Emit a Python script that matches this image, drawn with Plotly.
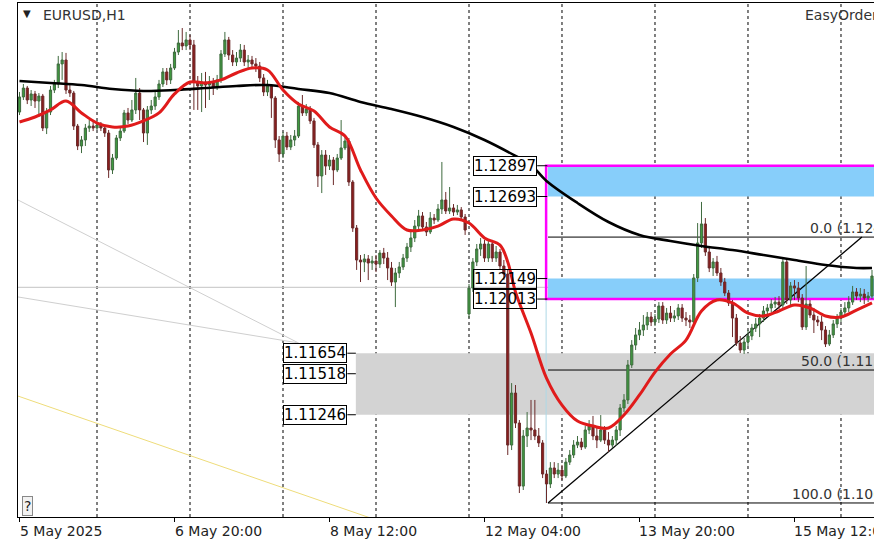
import plotly.graph_objects as go

# EURUSD H1, 5 May 04:00 .. 16 May, one entry per hourly bar
bars = list(range(221))

opens = [
    1.13253, 1.13353, 1.13412, 1.13333, 1.13373, 1.13326, 1.13359, 1.13147, 1.13253, 1.13399,
    1.13439, 1.13572, 1.13598, 1.13399, 1.13379, 1.13160, 1.13028, 1.13068, 1.13147, 1.13160,
    1.13147, 1.13167, 1.13147, 1.13114, 1.12869, 1.12948, 1.13081, 1.13127, 1.13247, 1.13200,
    1.13267, 1.13379, 1.13267, 1.13114, 1.13267, 1.13293, 1.13353, 1.13439, 1.13519, 1.13466,
    1.13545, 1.13651, 1.13711, 1.13691, 1.13731, 1.13698, 1.13452, 1.13426, 1.13452, 1.13432,
    1.13446, 1.13419, 1.13466, 1.13638, 1.13731, 1.13631, 1.13585, 1.13611, 1.13664, 1.13585,
    1.13598, 1.13572, 1.13558, 1.13479, 1.13386, 1.13426, 1.13346, 1.13068, 1.12975, 1.13094,
    1.13021, 1.13068, 1.13094, 1.13293, 1.13247, 1.13273, 1.13194, 1.13035, 1.12829, 1.12968,
    1.12895, 1.12935, 1.12869, 1.12948, 1.13015, 1.13061, 1.12789, 1.12484, 1.12272, 1.12259,
    1.12279, 1.12252, 1.12265, 1.12245, 1.12318, 1.12285, 1.12219, 1.12126, 1.12186, 1.12226,
    1.12285, 1.12358, 1.12418, 1.12497, 1.12564, 1.12491, 1.12458, 1.12550, 1.12537, 1.12610,
    1.12670, 1.12597, 1.12617, 1.12590, 1.12604, 1.12557, 1.11914, 1.12086, 1.12259, 1.12345,
    1.12378, 1.12285, 1.12378, 1.12285, 1.12325, 1.12232, 1.12179, 1.11045, 1.11390, 1.11191,
    1.10773, 1.11105, 1.11158, 1.11145, 1.11105, 1.11059, 1.10853, 1.10787, 1.10893, 1.10853,
    1.10879, 1.10840, 1.10932, 1.10979, 1.11045, 1.11065, 1.11032, 1.11145, 1.11171, 1.11105,
    1.11078, 1.11145, 1.11078, 1.11045, 1.11078, 1.11145, 1.11291, 1.11344, 1.11576, 1.11708,
    1.11775, 1.11808, 1.11841, 1.11894, 1.11861, 1.11881, 1.11967, 1.11874, 1.11920, 1.11887,
    1.11901, 1.11954, 1.11887, 1.11874, 1.11861, 1.12153, 1.12385, 1.12511, 1.12325, 1.12219,
    1.12259, 1.12186, 1.12126, 1.12053, 1.11987, 1.11887, 1.11722, 1.11675, 1.11728, 1.11768,
    1.11821, 1.11848, 1.11887, 1.11934, 1.11954, 1.11980, 1.11993, 1.11974, 1.12259, 1.12007,
    1.12100, 1.12086, 1.12020, 1.11828, 1.11980, 1.11907, 1.11874, 1.11861, 1.11808, 1.11715,
    1.11775, 1.11848, 1.11887, 1.11927, 1.11954, 1.11993, 1.12060, 1.12033, 1.12046, 1.12020,
    1.12033,
]
highs = [
    1.13386, 1.13439, 1.13426, 1.13399, 1.13393, 1.13379, 1.13373, 1.13280, 1.13426, 1.13466,
    1.13625, 1.13651, 1.13645, 1.13432, 1.13393, 1.13174, 1.13094, 1.13174, 1.13200, 1.13187,
    1.13194, 1.13187, 1.13167, 1.13134, 1.12975, 1.13101, 1.13154, 1.13267, 1.13280, 1.13333,
    1.13479, 1.13412, 1.13280, 1.13293, 1.13333, 1.13386, 1.13466, 1.13545, 1.13545, 1.13572,
    1.13678, 1.13797, 1.13810, 1.13784, 1.13764, 1.13731, 1.13492, 1.13512, 1.13519, 1.13492,
    1.13479, 1.13499, 1.13664, 1.13784, 1.13751, 1.13664, 1.13651, 1.13704, 1.13698, 1.13631,
    1.13625, 1.13611, 1.13585, 1.13505, 1.13466, 1.13439, 1.13359, 1.13094, 1.13121, 1.13121,
    1.13101, 1.13134, 1.13320, 1.13366, 1.13306, 1.13293, 1.13214, 1.13054, 1.13001, 1.13001,
    1.12968, 1.12955, 1.12975, 1.13200, 1.13094, 1.13081, 1.12802, 1.12504, 1.12305, 1.12312,
    1.12305, 1.12299, 1.12305, 1.12338, 1.12352, 1.12325, 1.12259, 1.12219, 1.12259, 1.12312,
    1.12385, 1.12458, 1.12537, 1.12604, 1.12590, 1.12524, 1.12590, 1.12577, 1.12643, 1.12922,
    1.12723, 1.12756, 1.12643, 1.12637, 1.12623, 1.12577, 1.12113, 1.12285, 1.12378, 1.12418,
    1.12405, 1.12405, 1.12405, 1.12365, 1.12345, 1.12272, 1.12206, 1.11456, 1.11443, 1.11211,
    1.11145, 1.11264, 1.11344, 1.11344, 1.11158, 1.11078, 1.10879, 1.10932, 1.10932, 1.10926,
    1.10913, 1.10959, 1.11012, 1.11078, 1.11105, 1.11092, 1.11171, 1.11211, 1.11238, 1.11158,
    1.11244, 1.11171, 1.11131, 1.11105, 1.11171, 1.11317, 1.11383, 1.11609, 1.11741, 1.11821,
    1.11861, 1.11907, 1.11927, 1.11927, 1.11914, 1.11993, 1.11993, 1.11954, 1.11967, 1.11940,
    1.11980, 1.11980, 1.11927, 1.11907, 1.12179, 1.12517, 1.12657, 1.12550, 1.12365, 1.12285,
    1.12299, 1.12219, 1.12153, 1.12073, 1.12007, 1.11914, 1.11768, 1.11755, 1.11808, 1.11848,
    1.11887, 1.11914, 1.11967, 1.11980, 1.12013, 1.12027, 1.12033, 1.12285, 1.12285, 1.12126,
    1.12139, 1.12126, 1.12046, 1.12232, 1.12007, 1.11954, 1.11901, 1.11901, 1.11834, 1.11808,
    1.11874, 1.11914, 1.11954, 1.11993, 1.12033, 1.12100, 1.12086, 1.12086, 1.12080, 1.12060,
    1.12206,
]
lows = [
    1.13233, 1.13333, 1.13306, 1.13293, 1.13280, 1.13220, 1.13127, 1.13107, 1.13233, 1.13379,
    1.13412, 1.13466, 1.13373, 1.13353, 1.13134, 1.13001, 1.12981, 1.13028, 1.13121, 1.13127,
    1.13134, 1.13127, 1.13088, 1.12816, 1.12842, 1.12935, 1.13061, 1.13114, 1.13174, 1.13187,
    1.13240, 1.13200, 1.13054, 1.13035, 1.13240, 1.13267, 1.13333, 1.13419, 1.13432, 1.13439,
    1.13532, 1.13631, 1.13664, 1.13664, 1.13664, 1.13267, 1.13267, 1.13253, 1.13280, 1.13333,
    1.13366, 1.13399, 1.13446, 1.13618, 1.13598, 1.13558, 1.13558, 1.13585, 1.13558, 1.13545,
    1.13545, 1.13519, 1.13452, 1.13359, 1.13359, 1.13214, 1.13015, 1.12922, 1.12948, 1.13001,
    1.13001, 1.13028, 1.13081, 1.13227, 1.13227, 1.13174, 1.13015, 1.12756, 1.12716, 1.12836,
    1.12869, 1.12769, 1.12855, 1.12935, 1.13001, 1.12763, 1.12458, 1.12206, 1.12126, 1.12192,
    1.12139, 1.12206, 1.12192, 1.12219, 1.12245, 1.12139, 1.12100, 1.11960, 1.12153, 1.12206,
    1.12259, 1.12325, 1.12391, 1.12458, 1.12471, 1.12431, 1.12444, 1.12511, 1.12524, 1.12577,
    1.12577, 1.12577, 1.12564, 1.12570, 1.12537, 1.12438, 1.11887, 1.12060, 1.12232, 1.12299,
    1.12259, 1.12259, 1.12259, 1.12259, 1.12206, 1.12139, 1.10979, 1.11012, 1.11158, 1.10727,
    1.10747, 1.11032, 1.11078, 1.11078, 1.11032, 1.10826, 1.10661, 1.10760, 1.10826, 1.10826,
    1.10813, 1.10826, 1.10913, 1.10959, 1.11025, 1.11012, 1.11019, 1.11118, 1.11078, 1.11025,
    1.11065, 1.11052, 1.10999, 1.11025, 1.11039, 1.11105, 1.11264, 1.11317, 1.11556, 1.11675,
    1.11741, 1.11768, 1.11808, 1.11834, 1.11834, 1.11854, 1.11848, 1.11848, 1.11861, 1.11861,
    1.11874, 1.11861, 1.11834, 1.11821, 1.11834, 1.12126, 1.12352, 1.12299, 1.12192, 1.12166,
    1.12166, 1.12100, 1.12033, 1.11967, 1.11761, 1.11702, 1.11655, 1.11649, 1.11702, 1.11741,
    1.11795, 1.11761, 1.11861, 1.11901, 1.11927, 1.11954, 1.11947, 1.11954, 1.11980, 1.11967,
    1.12007, 1.11993, 1.11808, 1.11808, 1.11887, 1.11788, 1.11834, 1.11741, 1.11695, 1.11702,
    1.11755, 1.11821, 1.11861, 1.11901, 1.11927, 1.11974, 1.12007, 1.11993, 1.11980, 1.11993,
    1.12013,
]
closes = [
    1.13353, 1.13412, 1.13333, 1.13373, 1.13326, 1.13359, 1.13147, 1.13253, 1.13399, 1.13439,
    1.13572, 1.13598, 1.13399, 1.13379, 1.13160, 1.13028, 1.13068, 1.13147, 1.13160, 1.13147,
    1.13167, 1.13147, 1.13114, 1.12869, 1.12948, 1.13081, 1.13127, 1.13247, 1.13200, 1.13267,
    1.13379, 1.13267, 1.13114, 1.13267, 1.13293, 1.13353, 1.13439, 1.13519, 1.13466, 1.13545,
    1.13651, 1.13711, 1.13691, 1.13731, 1.13698, 1.13452, 1.13426, 1.13452, 1.13432, 1.13446,
    1.13419, 1.13466, 1.13638, 1.13731, 1.13631, 1.13585, 1.13611, 1.13664, 1.13585, 1.13598,
    1.13572, 1.13558, 1.13479, 1.13386, 1.13426, 1.13346, 1.13068, 1.12975, 1.13094, 1.13021,
    1.13068, 1.13094, 1.13293, 1.13247, 1.13273, 1.13194, 1.13035, 1.12829, 1.12968, 1.12895,
    1.12935, 1.12869, 1.12948, 1.13015, 1.13061, 1.12789, 1.12484, 1.12272, 1.12259, 1.12279,
    1.12252, 1.12265, 1.12245, 1.12318, 1.12285, 1.12219, 1.12126, 1.12186, 1.12226, 1.12285,
    1.12358, 1.12418, 1.12497, 1.12564, 1.12491, 1.12458, 1.12550, 1.12537, 1.12610, 1.12670,
    1.12597, 1.12617, 1.12590, 1.12604, 1.12557, 1.12471, 1.12086, 1.12259, 1.12345, 1.12378,
    1.12285, 1.12378, 1.12285, 1.12325, 1.12232, 1.12179, 1.11045, 1.11390, 1.11191, 1.10773,
    1.11105, 1.11158, 1.11145, 1.11105, 1.11059, 1.10853, 1.10787, 1.10893, 1.10853, 1.10879,
    1.10840, 1.10932, 1.10979, 1.11045, 1.11065, 1.11032, 1.11145, 1.11171, 1.11105, 1.11078,
    1.11145, 1.11078, 1.11045, 1.11078, 1.11145, 1.11291, 1.11344, 1.11576, 1.11708, 1.11775,
    1.11808, 1.11841, 1.11894, 1.11861, 1.11881, 1.11967, 1.11874, 1.11920, 1.11887, 1.11901,
    1.11954, 1.11887, 1.11874, 1.11861, 1.12153, 1.12385, 1.12511, 1.12325, 1.12219, 1.12259,
    1.12186, 1.12126, 1.12053, 1.11987, 1.11887, 1.11722, 1.11675, 1.11728, 1.11768, 1.11821,
    1.11848, 1.11887, 1.11934, 1.11954, 1.11980, 1.11993, 1.11974, 1.12259, 1.12007, 1.12100,
    1.12086, 1.12020, 1.11828, 1.11980, 1.11907, 1.11874, 1.11861, 1.11808, 1.11715, 1.11775,
    1.11848, 1.11887, 1.11927, 1.11954, 1.11993, 1.12060, 1.12033, 1.12046, 1.12020, 1.12033,
    1.12166,
]

# moving averages
red_ma_bars = [0, 4, 8, 12, 16, 20, 24, 28, 32, 36, 40, 44, 48, 52, 56, 60, 64, 68, 72, 76,
               80, 84, 88, 92, 96, 100, 104, 108, 112, 116, 120, 124, 126, 128, 132, 136, 140,
               144, 148, 152, 156, 160, 164, 168, 172, 176, 180, 184, 188, 192, 196, 200, 204,
               208, 212, 216, 220]
red_ma = [1.13187, 1.13220, 1.13267, 1.13326, 1.13247, 1.13180, 1.13154, 1.13160, 1.13194,
          1.13247, 1.13373, 1.13452, 1.13446, 1.13466, 1.13512, 1.13545, 1.13532, 1.13399,
          1.13306, 1.13260, 1.13154, 1.13094, 1.12869, 1.12683, 1.12564, 1.12471, 1.12471,
          1.12497, 1.12544, 1.12517, 1.12418, 1.12371, 1.12259, 1.12060, 1.11788, 1.11489,
          1.11310, 1.11204, 1.11171, 1.11158, 1.11244, 1.11377, 1.11529, 1.11649, 1.11741,
          1.11934, 1.12007, 1.11987, 1.11920, 1.11901, 1.11934, 1.11974, 1.11954, 1.11901,
          1.11894, 1.11940, 1.11987]

black_ma_bars = [0, 8, 16, 24, 32, 40, 48, 56, 64, 72, 80, 88, 96, 104, 112, 120, 128, 132,
                 136, 144, 152, 160, 168, 176, 184, 192, 200, 208, 216, 220]
black_ma = [1.13459, 1.13446, 1.13432, 1.13406, 1.13393, 1.13399, 1.13412, 1.13426, 1.13432,
            1.13406, 1.13379, 1.13320, 1.13273, 1.13220, 1.13154, 1.13068, 1.12962, 1.12902,
            1.12796, 1.12650, 1.12524, 1.12438, 1.12398, 1.12365, 1.12338, 1.12305, 1.12272,
            1.12239, 1.12219, 1.12219]

# x axis
tick_bars = [0, 40, 80, 120, 160, 200]
tick_text = ["5 May 2025", "6 May 20:00", "8 May 12:00", "12 May 04:00", "13 May 20:00", "15 May 12:00"]
day_breaks = [20, 44, 68, 92, 116, 140, 164, 188, 212]

# drawn objects
supply_levels = [1.12897, 1.12693, 1.12149, 1.12013]
demand_levels = [1.11654, 1.11518, 1.11246]
fib_high = 1.12424
fib_low = 1.10661
fib_ratios = [0.0, 50.0, 100.0]
hline_price = 1.12091

FONT = "DejaVu Sans"
X_MIN, X_MAX = -0.39, 220.52
Y_MIN, Y_MAX = 1.10568, 1.13976

fig = go.Figure()

fig.add_trace(go.Candlestick(
    x=bars, open=opens, high=highs, low=lows, close=closes,
    increasing=dict(line=dict(color="#3f6b3f", width=1), fillcolor="#3f9a3f"),
    decreasing=dict(line=dict(color="#6b2a2a", width=1), fillcolor="#8c1c1c"),
    hoverinfo="skip", showlegend=False,
))
fig.add_trace(go.Scatter(x=black_ma_bars, y=black_ma, mode="lines",
                         line=dict(color="black", width=2.6, shape="spline"),
                         hoverinfo="skip", showlegend=False))
fig.add_trace(go.Scatter(x=red_ma_bars, y=red_ma, mode="lines",
                         line=dict(color="#e01b1b", width=3, shape="spline"),
                         hoverinfo="skip", showlegend=False))

shapes = []
# day separators
for b in day_breaks:
    shapes.append(dict(type="line", xref="x", yref="paper", x0=b, x1=b, y0=0, y1=1,
                       line=dict(color="black", width=1, dash="3px,3px"), layer="below"))
# thin gray trend lines on the left
shapes.append(dict(type="line", x0=-0.4, y0=1.12670, x1=72, y1=1.11722,
                   line=dict(color="#cfcfcf", width=1), layer="below"))
shapes.append(dict(type="line", x0=-0.4, y0=1.12027, x1=72, y1=1.11722,
                   line=dict(color="#cfcfcf", width=1), layer="below"))
shapes.append(dict(type="line", x0=-0.4, y0=1.11370, x1=94, y1=1.10531,
                   line=dict(color="#eedc7a", width=1), layer="below"))
shapes.append(dict(type="line", x0=-0.4, y0=hline_price, x1=230, y1=hline_price,
                   line=dict(color="#c4c4c4", width=1), layer="below"))
# demand zone
shapes.append(dict(type="rect", x0=86.8, x1=230, y0=demand_levels[2], y1=demand_levels[0],
                   fillcolor="#d3d3d3", line=dict(width=0), layer="below"))
# supply zone bands
shapes.append(dict(type="rect", x0=136.4, x1=230, y0=supply_levels[1], y1=supply_levels[0],
                   fillcolor="#87cefa", line=dict(width=0), layer="below"))
shapes.append(dict(type="rect", x0=136.4, x1=230, y0=supply_levels[3], y1=supply_levels[2],
                   fillcolor="#87cefa", line=dict(width=0), layer="below"))
# fibo vertical
shapes.append(dict(type="line", x0=135.9, x1=135.9, y0=fib_low, y1=fib_high,
                   line=dict(color="#add8e6", width=1), layer="below"))
shapes.append(dict(type="rect", x0=135.9, x1=232, y0=supply_levels[3], y1=supply_levels[0],
                   line=dict(color="#ff00ff", width=2.5), fillcolor="rgba(0,0,0,0)", layer="below"))
# fib levels
fib_prices = [fib_high - (fib_high - fib_low) * r / 100 for r in fib_ratios]
for p in fib_prices:
    shapes.append(dict(type="line", x0=136.4, x1=230, y0=p, y1=p,
                       line=dict(color="black", width=1), layer="below"))
# rising trend line
shapes.append(dict(type="line", x0=136.4, y0=fib_low, x1=217.4, y1=fib_high,
                   line=dict(color="black", width=1.3), layer="below"))
# label ticks
for p in supply_levels:
    shapes.append(dict(type="line", x0=133.6, x1=136.2, y0=p, y1=p,
                       line=dict(color="black", width=1), layer="below"))
for p in demand_levels:
    shapes.append(dict(type="line", x0=84.6, x1=86.8, y0=p, y1=p,
                       line=dict(color="black", width=1), layer="below"))

ann = []
for p in supply_levels:
    ann.append(dict(x=133.6, y=p, xref="x", yref="y", xanchor="right", yanchor="middle",
                    text=f"{p:.5f}", showarrow=False, font=dict(family=FONT, size=15, color="black"),
                    bordercolor="black", borderwidth=1, borderpad=0,
                    bgcolor="white" if p > 1.122 else "rgba(255,255,255,0)"))
for p in demand_levels:
    ann.append(dict(x=84.6, y=p, xref="x", yref="y", xanchor="right", yanchor="middle",
                    text=f"{p:.5f}", showarrow=False, font=dict(family=FONT, size=15, color="black"),
                    bordercolor="black", borderwidth=1, borderpad=0, bgcolor="white"))
# level captions run off the right edge, as in the terminal window
fib_label_x = [203.5, 201.2, 198.9]
for r, p, lx in zip(fib_ratios, fib_prices, fib_label_x):
    ann.append(dict(x=lx, y=p, xref="x", yref="y", xanchor="left", yanchor="bottom",
                    text=f"{r:.1f} ({p:.5f})", showarrow=False, yshift=-1,
                    font=dict(family=FONT, size=14, color="#333333")))
for b, t in zip(tick_bars, tick_text):
    ann.append(dict(x=b, y=0, xref="x", yref="paper", xanchor="left", yanchor="top",
                    text=t, showarrow=False, yshift=-4, xshift=-2,
                    font=dict(family=FONT, size=14, color="#222222")))
ann.append(dict(x=0.0035, y=0.979, xref="paper", yref="paper", xanchor="left", yanchor="middle",
                text="▼", showarrow=False, font=dict(family=FONT, size=10, color="#222222")))
ann.append(dict(x=0.027, y=0.977, xref="paper", yref="paper", xanchor="left", yanchor="middle",
                text="EURUSD,H1", showarrow=False, font=dict(family=FONT, size=14, color="#333333")))
ann.append(dict(x=0.917, y=0.977, xref="paper", yref="paper", xanchor="left", yanchor="middle",
                text="EasyOrder", showarrow=False, font=dict(family=FONT, size=14, color="#333333")))
ann.append(dict(x=0.005, y=0.002, xref="paper", yref="paper", xanchor="left", yanchor="bottom",
                text="?", showarrow=False, font=dict(family=FONT, size=14, color="#222222"),
                bordercolor="#888888", borderwidth=1, borderpad=1, bgcolor="#f2f2f2"))

fig.update_layout(
    width=874, height=545,
    margin=dict(l=18, r=0, t=3, b=28),
    paper_bgcolor="white", plot_bgcolor="white",
    shapes=shapes, annotations=ann,
    boxgap=0.2,
    showlegend=False,
    hovermode=False,
    font=dict(family=FONT),
)
fig.update_xaxes(range=[X_MIN, X_MAX], rangeslider_visible=False, showgrid=False, zeroline=False,
                 showline=True, linecolor="black", linewidth=1, mirror=True,
                 tickvals=tick_bars, ticks="outside", ticklen=4, tickcolor="black",
                 showticklabels=False)
fig.update_yaxes(range=[Y_MIN, Y_MAX], showgrid=False, zeroline=False, showticklabels=False,
                 showline=True, linecolor="black", linewidth=1, ticks="")

# page margin off so the chart sits at the window corner
fig.write_html("out.html", config={"displayModeBar": False},
               post_script="document.body.style.margin='0';document.body.style.overflow='hidden';")
